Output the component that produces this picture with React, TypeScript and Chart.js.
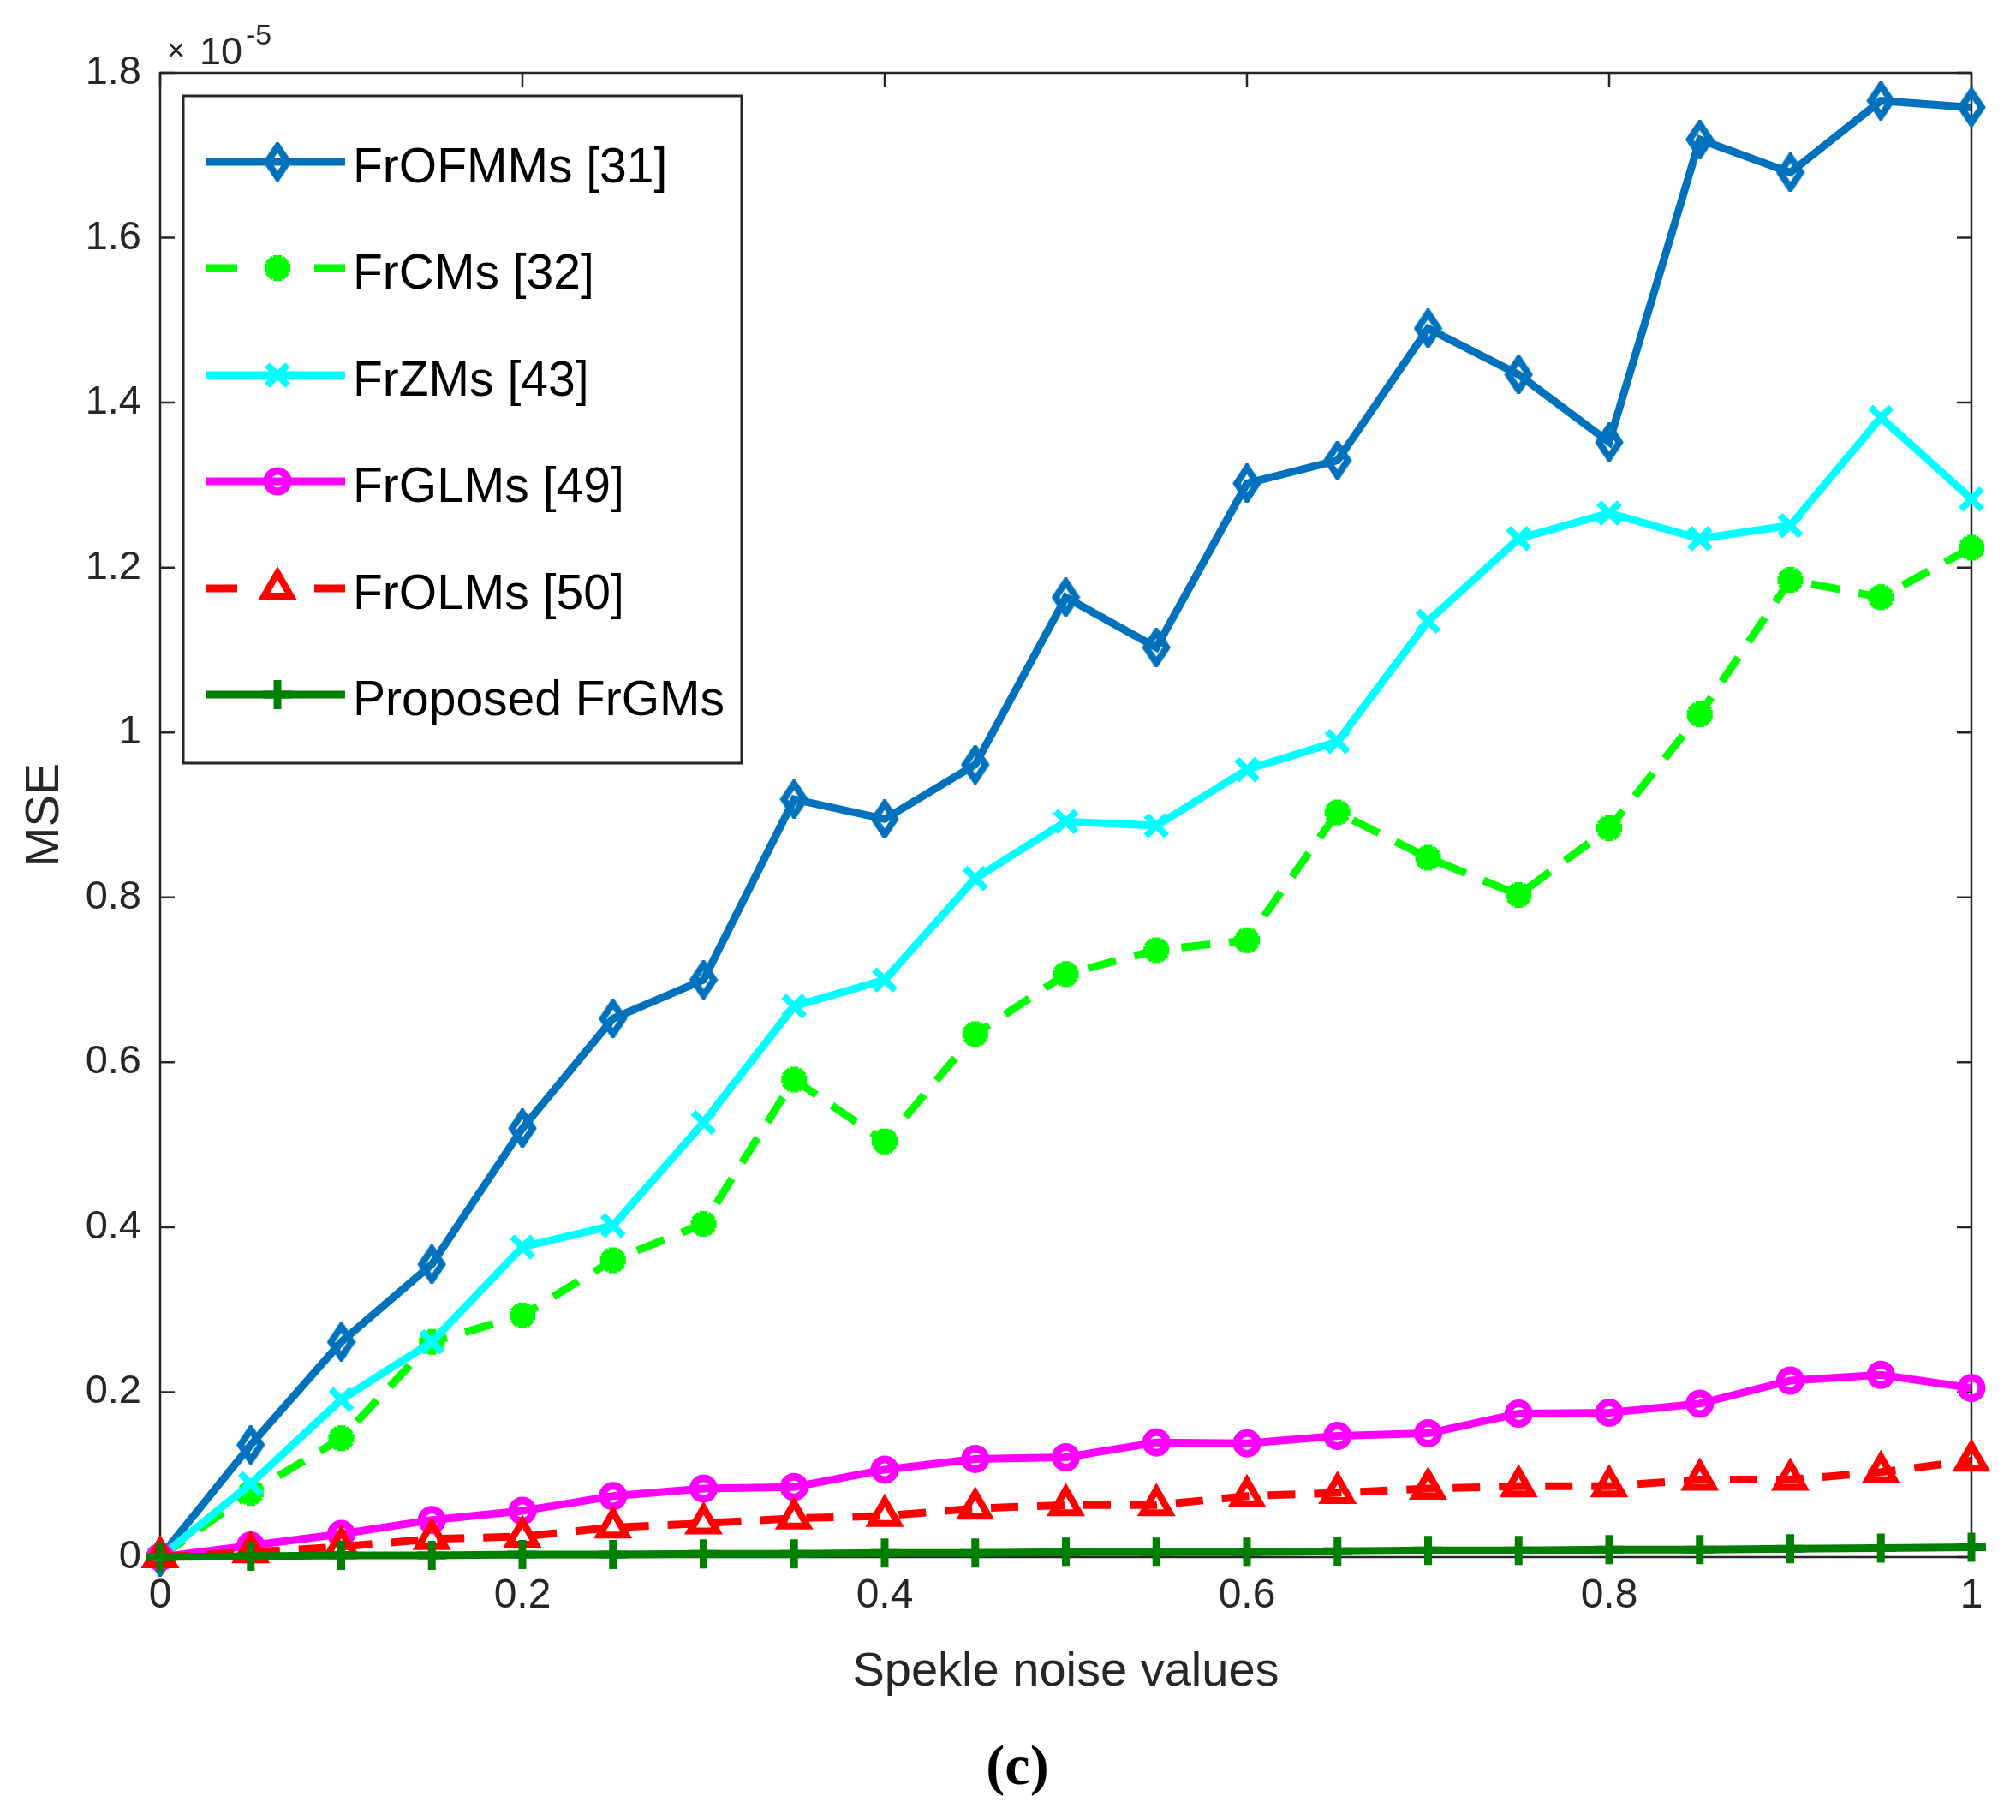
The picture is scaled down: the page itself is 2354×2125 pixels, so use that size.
import React, { useRef, useEffect } from "react";
import { Chart, registerables } from "chart.js";
import { drawPoint } from "chart.js/helpers";

Chart.register(...registerables);

// noise levels (x) and MSE values in units of 1e-5
const noiseValues = [
  0, 0.05, 0.1, 0.15, 0.2, 0.25, 0.3, 0.35, 0.4, 0.45, 0.5, 0.55, 0.6, 0.65,
  0.7, 0.75, 0.8, 0.85, 0.9, 0.95, 1,
];
const frofmms = [
  0, 0.136, 0.261, 0.355, 0.52, 0.653, 0.7, 0.919, 0.895, 0.961, 1.164, 1.103,
  1.302, 1.33, 1.49, 1.434, 1.352, 1.719, 1.679, 1.766, 1.758,
];
const frcms = [
  0, 0.078, 0.144, 0.261, 0.293, 0.36, 0.404, 0.579, 0.504, 0.634, 0.707,
  0.736, 0.748, 0.903, 0.848, 0.803, 0.884, 1.022, 1.185, 1.164, 1.224,
];
const frzms = [
  0, 0.089, 0.191, 0.261, 0.376, 0.402, 0.527, 0.668, 0.7, 0.823, 0.892, 0.887,
  0.955, 0.989, 1.135, 1.235, 1.266, 1.235, 1.251, 1.382, 1.283,
];
const frglms = [
  0, 0.014, 0.028, 0.045, 0.056, 0.074, 0.083, 0.085, 0.106, 0.119, 0.121,
  0.139, 0.138, 0.147, 0.15, 0.174, 0.175, 0.186, 0.214, 0.221, 0.205,
];
const frolms = [
  0, 0.006, 0.0125, 0.022, 0.025, 0.036, 0.041, 0.047, 0.05, 0.059, 0.063,
  0.063, 0.074, 0.078, 0.083, 0.086, 0.086, 0.094, 0.094, 0.103, 0.117,
];
const frgms = [
  0, 0.001, 0.002, 0.002, 0.003, 0.003, 0.004, 0.004, 0.005, 0.005, 0.006,
  0.006, 0.006, 0.007, 0.008, 0.008, 0.009, 0.009, 0.01, 0.011, 0.012,
];

const seriesLabels = [
  "FrOFMMs [31]",
  "FrCMs [32]",
  "FrZMs [43]",
  "FrGLMs [49]",
  "FrOLMs [50]",
  "Proposed FrGMs",
];
const yTicks = [0, 0.2, 0.4, 0.6, 0.8, 1, 1.2, 1.4, 1.6, 1.8];
const xTicks = [0, 0.2, 0.4, 0.6, 0.8, 1];

const W = 2354;
const H = 2125;
const AXIS_COLOR = "#262626";
const FONT = "'Liberation Sans', Arial, sans-serif";

const xy = (vals: number[]) => vals.map((v, i) => ({ x: noiseValues[i], y: v }));

// MATLAB's diamond marker is taller than wide
const makeDiamond = (color: string) => {
  const c = document.createElement("canvas");
  c.width = 34;
  c.height = 46;
  const g = c.getContext("2d");
  if (g) {
    g.strokeStyle = color;
    g.lineWidth = 8;
    g.lineJoin = "miter";
    g.beginPath();
    g.moveTo(17, 5);
    g.lineTo(29, 23);
    g.lineTo(17, 41);
    g.lineTo(5, 23);
    g.closePath();
    g.stroke();
  }
  return c;
};

// box, inward ticks on all four sides
const framePlugin = {
  id: "frame",
  beforeDatasetsDraw(chart: any) {
    const { ctx, chartArea: a, scales } = chart;
    const len = 17;
    ctx.save();
    ctx.strokeStyle = AXIS_COLOR;
    ctx.lineWidth = 2.5;
    ctx.strokeRect(a.left, a.top, a.right - a.left, a.bottom - a.top);
    ctx.beginPath();
    scales.x.ticks.forEach((t: any) => {
      const px = scales.x.getPixelForValue(t.value);
      ctx.moveTo(px, a.bottom);
      ctx.lineTo(px, a.bottom - len);
      ctx.moveTo(px, a.top);
      ctx.lineTo(px, a.top + len);
    });
    scales.y.ticks.forEach((t: any) => {
      const py = scales.y.getPixelForValue(t.value);
      ctx.moveTo(a.left, py);
      ctx.lineTo(a.left + len, py);
      ctx.moveTo(a.right, py);
      ctx.lineTo(a.right - len, py);
    });
    ctx.stroke();
    ctx.restore();
  },
  afterDraw(chart: any) {
    const { ctx, chartArea: a } = chart;
    ctx.save();
    // exponent label
    ctx.fillStyle = AXIS_COLOR;
    ctx.textBaseline = "alphabetic";
    ctx.font = `36px ${FONT}`;
    ctx.fillText("\u00d7", a.left + 8, a.top - 14);
    ctx.font = `45px ${FONT}`;
    ctx.fillText("10", a.left + 46, a.top - 10);
    ctx.font = `34px ${FONT}`;
    ctx.fillText("-5", a.left + 100, a.top - 33);
    // caption
    ctx.fillStyle = "#000";
    ctx.font = `bold 66px 'Liberation Serif', 'Times New Roman', serif`;
    ctx.textAlign = "center";
    ctx.textBaseline = "middle";
    ctx.fillText("(c)", 1188, 2066);
    ctx.restore();
  },
};

// MATLAB style legend box
const legendPlugin = {
  id: "matlabLegend",
  afterDraw(chart: any) {
    const { ctx } = chart;
    const box = { left: 214, top: 112, right: 866, bottom: 891 };
    const rows = [189, 313, 438, 562, 687, 811];
    ctx.save();
    ctx.fillStyle = "#fff";
    ctx.fillRect(box.left, box.top, box.right - box.left, box.bottom - box.top);
    ctx.strokeStyle = "#262626";
    ctx.lineWidth = 3;
    ctx.strokeRect(box.left, box.top, box.right - box.left, box.bottom - box.top);
    chart.data.datasets.forEach((ds: any, i: number) => {
      const y = rows[i];
      const x0 = 241;
      const x1 = 403;
      const xm = 324;
      ctx.strokeStyle = ds.borderColor;
      ctx.lineWidth = ds.borderWidth;
      ctx.setLineDash([]);
      ctx.beginPath();
      if (ds.borderDash && ds.borderDash.length) {
        ctx.moveTo(x0, y);
        ctx.lineTo(x0 + 36, y);
        ctx.moveTo(x1 - 36, y);
        ctx.lineTo(x1, y);
      } else {
        ctx.moveTo(x0, y);
        ctx.lineTo(x1, y);
      }
      ctx.stroke();
      ctx.strokeStyle = ds.pointBorderColor;
      ctx.fillStyle = ds.pointBackgroundColor;
      ctx.lineWidth = ds.pointBorderWidth;
      drawPoint(
        ctx,
        { pointStyle: ds.pointStyle, radius: ds.pointRadius, rotation: 0, borderWidth: ds.pointBorderWidth },
        xm,
        y
      );
      ctx.fillStyle = "#000";
      ctx.font = `57px ${FONT}`;
      ctx.textAlign = "left";
      ctx.textBaseline = "alphabetic";
      ctx.fillText(seriesLabels[i], 412, y + 24);
    });
    ctx.restore();
  },
};

const App = () => {
  const chartRef = useRef<HTMLCanvasElement>(null);
  const chartInstanceRef = useRef<Chart | null>(null);

  useEffect(() => {
    document.body.style.margin = "0";
    if (!chartRef.current) return;
    const context = chartRef.current.getContext("2d");
    if (!context) return;
    if (chartInstanceRef.current) chartInstanceRef.current.destroy();

    const base = (i: number, color: string) => ({
      label: seriesLabels[i],
      borderColor: color,
      pointBorderColor: color,
      borderWidth: 9,
      pointBorderWidth: 8,
      tension: 0,
      clip: false as any,
      order: 5 - i,
    });

    chartInstanceRef.current = new Chart(context, {
      type: "line",
      data: {
        datasets: [
          {
            ...base(0, "#0072BD"),
            data: xy(frofmms),
            pointStyle: makeDiamond("#0072BD") as any,
            pointRadius: 18,
            pointBackgroundColor: "rgba(0,0,0,0)",
          },
          {
            ...base(1, "#00FF00"),
            data: xy(frcms),
            borderDash: [34, 22],
            pointStyle: "star",
            pointRadius: 15,
            pointBorderWidth: 10,
            pointBackgroundColor: "#00FF00",
          },
          {
            ...base(2, "#00FFFF"),
            data: xy(frzms),
            pointStyle: "crossRot",
            pointRadius: 17,
            pointBackgroundColor: "rgba(0,0,0,0)",
          },
          {
            ...base(3, "#FF00FF"),
            data: xy(frglms),
            pointStyle: "circle",
            pointRadius: 12,
            pointBorderWidth: 9,
            pointBackgroundColor: "rgba(0,0,0,0)",
          },
          {
            ...base(4, "#FF0000"),
            data: xy(frolms),
            borderDash: [32, 22],
            pointStyle: "triangle",
            pointRadius: 18,
            pointBackgroundColor: "rgba(0,0,0,0)",
          },
          {
            ...base(5, "#007F00"),
            data: xy(frgms),
            borderWidth: 9,
            pointStyle: "cross",
            pointRadius: 17,
            pointBorderWidth: 9,
            pointBackgroundColor: "rgba(0,0,0,0)",
          },
        ],
      },
      options: {
        responsive: false,
        devicePixelRatio: 1,
        animation: false,
        layout: { padding: { left: 0, right: 52, top: 85, bottom: 0 } },
        plugins: {
          legend: { display: false },
          tooltip: { enabled: false },
        },
        scales: {
          x: {
            type: "linear",
            min: 0,
            max: 1,
            afterBuildTicks: (scale: any) => {
              scale.ticks = xTicks.map((v) => ({ value: v }));
            },
            afterFit: (scale: any) => {
              scale.height = 307;
            },
            grid: { display: false, drawTicks: false },
            border: { display: false },
            ticks: {
              padding: 17,
              color: AXIS_COLOR,
              font: { family: FONT, size: 48 },
              maxRotation: 0,
              callback: (v: any) => String(Number(Number(v).toFixed(2))),
            },
            title: {
              display: true,
              text: "Spekle noise values",
              color: AXIS_COLOR,
              font: { family: FONT, size: 56 },
              padding: { top: 0, bottom: 139 },
            },
          },
          y: {
            type: "linear",
            min: 0,
            max: 1.8,
            afterBuildTicks: (scale: any) => {
              scale.ticks = yTicks.map((v) => ({ value: v }));
            },
            afterFit: (scale: any) => {
              scale.width = 187;
            },
            grid: { display: false, drawTicks: false },
            border: { display: false },
            ticks: {
              padding: 22,
              color: AXIS_COLOR,
              font: { family: FONT, size: 47 },
              callback: (v: any) => String(Number(Number(v).toFixed(2))),
            },
            title: {
              display: true,
              text: "MSE",
              color: AXIS_COLOR,
              font: { family: FONT, size: 56 },
              padding: { top: 19, bottom: 0 },
            },
          },
        },
      },
      plugins: [framePlugin, legendPlugin],
    });

    return () => {
      if (chartInstanceRef.current) {
        chartInstanceRef.current.destroy();
        chartInstanceRef.current = null;
      }
    };
  }, []);

  return (
    <div style={{ width: W, height: H, background: "#fff" }}>
      <canvas ref={chartRef} width={W} height={H} style={{ width: W, height: H }}></canvas>
    </div>
  );
};

export default App;
